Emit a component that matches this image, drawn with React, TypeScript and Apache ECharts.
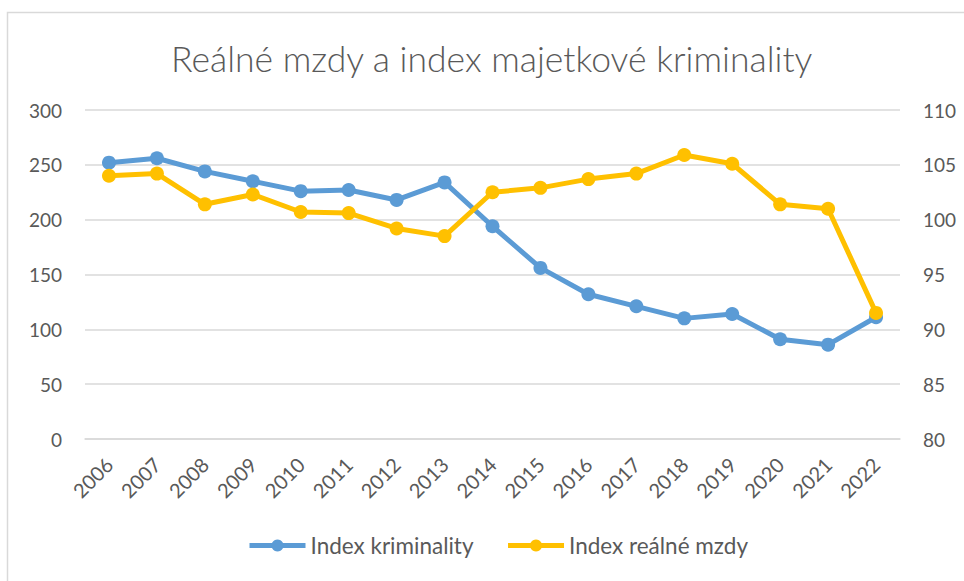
import React, { useEffect, useRef } from "react";
import * as echarts from "echarts";

const years = ["2006","2007","2008","2009","2010","2011","2012","2013","2014","2015","2016","2017","2018","2019","2020","2021","2022"];
const kriminality = [252, 256, 244, 235, 226, 227, 218, 234, 194, 156, 132, 121, 110, 114, 91, 86, 111];
const realneMzdy = [104.0, 104.2, 101.4, 102.3, 100.7, 100.6, 99.2, 98.5, 102.5, 102.9, 103.7, 104.2, 105.9, 105.1, 101.4, 101.0, 91.5];
const leftTicks = { min: 0, max: 300, interval: 50 };
const rightTicks = { min: 80, max: 110, interval: 5 };

const FONT = "Lato, 'Open Sans', sans-serif";
const TXT = "#595959";

export default function App() {
  const ref = useRef<HTMLDivElement>(null);
  useEffect(() => {
    const chart = echarts.init(ref.current!, undefined, { renderer: "svg" });
    chart.setOption({
      animation: false,
      backgroundColor: "#ffffff",
      title: {
        text: "Reálné mzdy a index majetkové kriminality",
        left: 166,
        top: 35,
        textStyle: { fontFamily: FONT, fontSize: 35.5, fontWeight: 300, color: TXT },
      },
      graphic: [
        {
          type: "rect",
          shape: { x: 7.5, y: 12.5, width: 1000, height: 700 },
          style: { fill: "none", stroke: "#d9d9d9", lineWidth: 1.5 },
          silent: true,
        },
      ],
      grid: { left: 85, right: 64, top: 110, bottom: 142, containLabel: false },
      legend: {
        bottom: 19,
        left: 242,
        itemWidth: 56,
        itemHeight: 15,
        itemGap: 32,
        lineStyle: { width: 5 },
        textStyle: { fontFamily: FONT, fontSize: 22.5, color: TXT, padding: [0, 0, 0, 0] },
        data: ["Index kriminality", "Index reálné mzdy"],
      },
      xAxis: {
        type: "category",
        data: years,
        boundaryGap: true,
        axisLine: { show: true, lineStyle: { color: "#d9d9d9", width: 1.5 } },
        axisTick: { show: false },
        axisLabel: { rotate: 45, fontFamily: FONT, fontSize: 20, color: TXT, margin: 22, interval: 0 },
      },
      yAxis: [
        {
          type: "value",
          ...leftTicks,
          axisLine: { show: false },
          axisTick: { show: false },
          splitLine: { lineStyle: { color: "#d9d9d9", width: 1.5 } },
          axisLabel: { fontFamily: FONT, fontSize: 19, color: TXT, margin: 23 },
        },
        {
          type: "value",
          ...rightTicks,
          position: "right",
          axisLine: { show: false },
          axisTick: { show: false },
          splitLine: { show: false },
          axisLabel: { fontFamily: FONT, fontSize: 19, color: TXT, margin: 23 },
        },
      ],
      series: [
        {
          name: "Index kriminality",
          type: "line",
          yAxisIndex: 0,
          data: kriminality,
          symbol: "circle",
          symbolSize: 14,
          lineStyle: { width: 5, color: "#5B9BD5" },
          itemStyle: { color: "#5B9BD5" },
        },
        {
          name: "Index reálné mzdy",
          type: "line",
          yAxisIndex: 1,
          data: realneMzdy,
          symbol: "circle",
          symbolSize: 14,
          lineStyle: { width: 5, color: "#FFC000" },
          itemStyle: { color: "#FFC000" },
        },
      ],
    });
    return () => chart.dispose();
  }, []);
  return (
    <div style={{ position: "fixed", left: 0, top: 0, width: 964, height: 581, background: "#fff" }}>
      <div ref={ref} style={{ width: 964, height: 581 }} />
    </div>
  );
}
